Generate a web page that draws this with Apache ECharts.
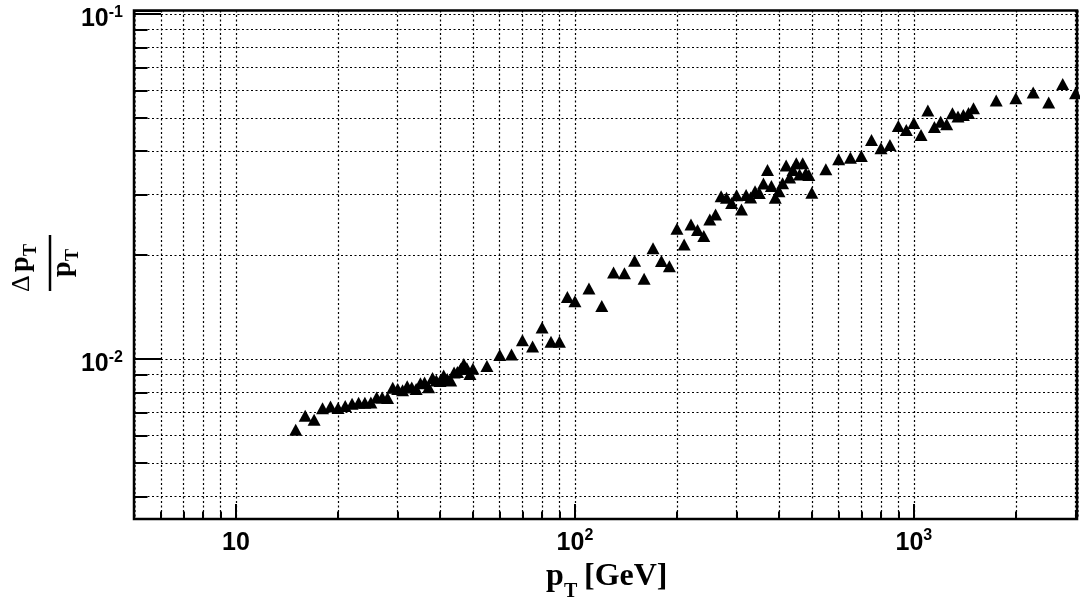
<!DOCTYPE html>
<html><head><meta charset="utf-8">
<script src="https://cdn.jsdelivr.net/npm/echarts@6/dist/echarts.min.js"></script>
<style>html,body{margin:0;padding:0;background:#fff}#c{width:1080px;height:601px}</style>
</head><body><div id="c"></div>
<script>
// ---- data ----
const ptValues = [15,16,17,18,19,20,21,22,23,24,25,26,27,28,29,30,31,32,33,34,35,36,37,38,39,40,41,42,43,44,45,46,47,48,49,50,
  55,60,65,70,75,80,85,90,95,100,
  110,120,130,140,150,160,170,180,190,200,210,220,230,240,250,260,270,280,290,300,
  310,320,330,340,350,360,370,380,390,400,410,420,430,440,450,460,470,480,490,500,
  550,600,650,700,750,800,850,900,950,1000,1050,1100,1150,1200,1250,1300,1350,1400,1450,1500,
  1750,2000,2250,2500,2750,3000];
const resolution = [0.00624,0.00684,0.00666,0.00720,0.00728,0.00721,0.00730,0.00742,0.00747,0.00747,0.00748,0.00773,0.00773,0.00770,0.00825,0.00819,0.00811,0.00834,0.00827,0.00819,0.00850,0.00855,0.00828,0.00881,0.00866,0.00863,0.00896,0.00875,0.00866,0.00914,0.00917,0.00935,0.00967,0.00940,0.00905,0.00937,
  0.00954,0.01027,0.01030,0.01133,0.01086,0.01234,0.01122,0.01122,0.01513,0.01470,
  0.01599,0.01424,0.01781,0.01772,0.01927,0.01709,0.02094,0.01923,0.01857,0.02386,0.02145,0.02451,0.02365,0.02273,0.02537,0.02624,0.02963,0.02933,0.02833,0.02982,
  0.02709,0.02988,0.02939,0.03063,0.03028,0.03226,0.03530,0.03173,0.02933,0.03063,0.03231,0.03638,0.03358,0.03530,0.03691,0.03426,0.03692,0.03453,0.03414,0.03034,
  0.03548,0.03794,0.03830,0.03876,0.04313,0.04080,0.04171,0.04736,0.04611,0.04831,0.04460,0.05245,0.04704,0.04872,0.04789,0.05155,0.05039,0.05096,0.05164,0.05330,
  0.05607,0.05698,0.05914,0.05533,0.06267,0.05890];

const xTickValues = [10, 100, 1000];
const xTickLabels = ['{b|10}', '{b|10}{s|2}', '{b|10}{s|3}'];
const yTickValues = [0.01, 0.1];
const yTickLabels = ['{b|10}{s|-2}', '{b|10}{s|-1}'];
const minorFactors = [2,3,4,5,6,7,8,9];

const X_MIN = 5, X_MAX = 3030;
const Y_MIN = 0.003437, Y_MAX = 0.1023;

function pick(values, labels) {
  return function (v) {
    for (let i = 0; i < values.length; i++) {
      if (Math.abs(v / values[i] - 1) < 1e-6) return labels[i];
    }
    return '';
  };
}
const richStyle = {
  b: {fontFamily: 'Liberation Sans', fontWeight: 'bold', fontSize: 25, color: '#000', lineHeight: 30},
  s: {fontFamily: 'Liberation Sans', fontWeight: 'bold', fontSize: 16, color: '#000', lineHeight: 15, verticalAlign: 'top'}
};
const dotted = {color: '#000', width: 1.2, type: [2, 2.5]};

const xAxes = [{
  type: 'log', min: X_MIN, max: X_MAX, position: 'bottom',
  axisLine: {show: false},
  axisTick: {inside: true, length: 15, lineStyle: {color: '#000', width: 2}},
  axisLabel: {formatter: pick(xTickValues, xTickLabels), rich: richStyle, margin: 9,
    fontFamily: 'Liberation Sans', fontWeight: 'bold', fontSize: 25, color: '#000'},
  splitLine: {show: true, lineStyle: dotted}
}];
const yAxes = [{
  type: 'log', min: Y_MIN, max: Y_MAX, position: 'left',
  axisLine: {show: false},
  axisTick: {inside: true, length: 27, lineStyle: {color: '#000', width: 2}},
  axisLabel: {formatter: pick(yTickValues, yTickLabels), rich: richStyle, margin: 11, padding: [11, 0, 0, 0],
    fontFamily: 'Liberation Sans', fontWeight: 'bold', fontSize: 25, color: '#000'},
  splitLine: {show: true, lineStyle: dotted}
}];
minorFactors.forEach(function (k) {
  xAxes.push({
    type: 'log', min: X_MIN / k, max: X_MAX / k, position: 'bottom',
    axisLine: {show: false}, axisLabel: {show: false},
    axisTick: {inside: true, length: 7.5, lineStyle: {color: '#000', width: 2}},
    splitLine: {show: true, lineStyle: dotted}
  });
  yAxes.push({
    type: 'log', min: Y_MIN / k, max: Y_MAX / k, position: 'left',
    axisLine: {show: false}, axisLabel: {show: false},
    axisTick: {inside: true, length: 13.5, lineStyle: {color: '#000', width: 2}},
    splitLine: {show: true, lineStyle: dotted}
  });
});

const serifB = 'bold 32px "Liberation Serif"';
const chart = echarts.init(document.getElementById('c'), null, {renderer: 'canvas'});
chart.setOption({
  animation: false,
  backgroundColor: '#fff',
  grid: {left: 134, right: 2, top: 10.5, bottom: 82, show: true, borderColor: '#000', borderWidth: 2.5, backgroundColor: 'transparent'},
  xAxis: xAxes,
  yAxis: yAxes,
  series: [{
    type: 'scatter', xAxisIndex: 0, yAxisIndex: 0,
    symbol: 'triangle', symbolSize: [13, 12],
    itemStyle: {color: '#000', opacity: 1},
    data: ptValues.map(function (x, i) { return [x, resolution[i]]; }),
    z: 10
  }],
  graphic: [
    {type: 'text', x: 546, y: 577, style: {text: 'p', font: serifB, fill: '#000', verticalAlign: 'middle', align: 'left'}},
    {type: 'text', x: 564, y: 592, style: {text: 'T', font: 'bold 20px "Liberation Serif"', fill: '#000', verticalAlign: 'middle', align: 'left'}},
    {type: 'text', x: 584, y: 577, style: {text: '[GeV]', font: serifB, fill: '#000', verticalAlign: 'middle', align: 'left'}},
    {type: 'group', x: 50, y: 263, rotation: Math.PI / 2, children: [
      {type: 'line', shape: {x1: -28, y1: 0, x2: 28, y2: 0}, style: {stroke: '#000', lineWidth: 2.5}},
      {type: 'text', x: -29, y: -28, style: {text: 'Δ', font: '26px "Liberation Serif"', fill: '#000', verticalAlign: 'middle', align: 'left'}},
      {type: 'text', x: -9, y: -29, style: {text: 'p', font: 'bold 28px "Liberation Serif"', fill: '#000', verticalAlign: 'middle', align: 'left'}},
      {type: 'text', x: 7, y: -19, style: {text: 'T', font: 'bold 18px "Liberation Serif"', fill: '#000', verticalAlign: 'middle', align: 'left'}},
      {type: 'text', x: -14, y: 13, style: {text: 'p', font: 'bold 28px "Liberation Serif"', fill: '#000', verticalAlign: 'middle', align: 'left'}},
      {type: 'text', x: 2, y: 23, style: {text: 'T', font: 'bold 18px "Liberation Serif"', fill: '#000', verticalAlign: 'middle', align: 'left'}}
    ]}
  ]
});
</script></body></html>
